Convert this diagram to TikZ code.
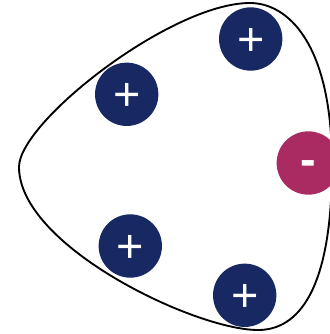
\documentclass[tikz,border=0pt]{standalone}
\usepackage{fontspec}
\setmainfont{Liberation Sans}
\usepackage{xcolor}
\usepackage{tikz}
\definecolor{ionblue}{RGB}{23,40,98}
\definecolor{ionred}{RGB}{170,42,98}
\tikzset{
  cation/.style={circle, fill=ionblue, minimum size=1.9cm, inner sep=0pt,
                 text=white, font=\fontsize{40}{40}\selectfont,
                 text height=28pt, text depth=0pt},
  anion/.style={cation, fill=ionred, font=\fontsize{40}{40}\selectfont\bfseries,
                text height=21.6pt},
  hull/.style={line width=1.6pt, black}
}

\begin{document}
\begin{tikzpicture}[x=0.03cm, y=-0.03cm]
\useasboundingbox (0,0) rectangle (329,334);
% rounded outline
\draw[hull] (19,167) .. controls (19,122) and (171,3) .. (250,3)
  .. controls (287,3) and (332,42) .. (332,165)
  .. controls (332,305) and (290,330) .. (258,330)
  .. controls (195,330) and (19,246) .. cycle;
% charges
\node[cation] (p1) at (250.7,39) {+};
\node[cation] (p2) at (126.7,94.3) {+};
\node[cation] (p3) at (130.3,246) {+};
\node[cation] (p4) at (244.7,295.3) {+};
\node[anion] (m1) at (308.3,163) {-};
\end{tikzpicture}
\end{document}
